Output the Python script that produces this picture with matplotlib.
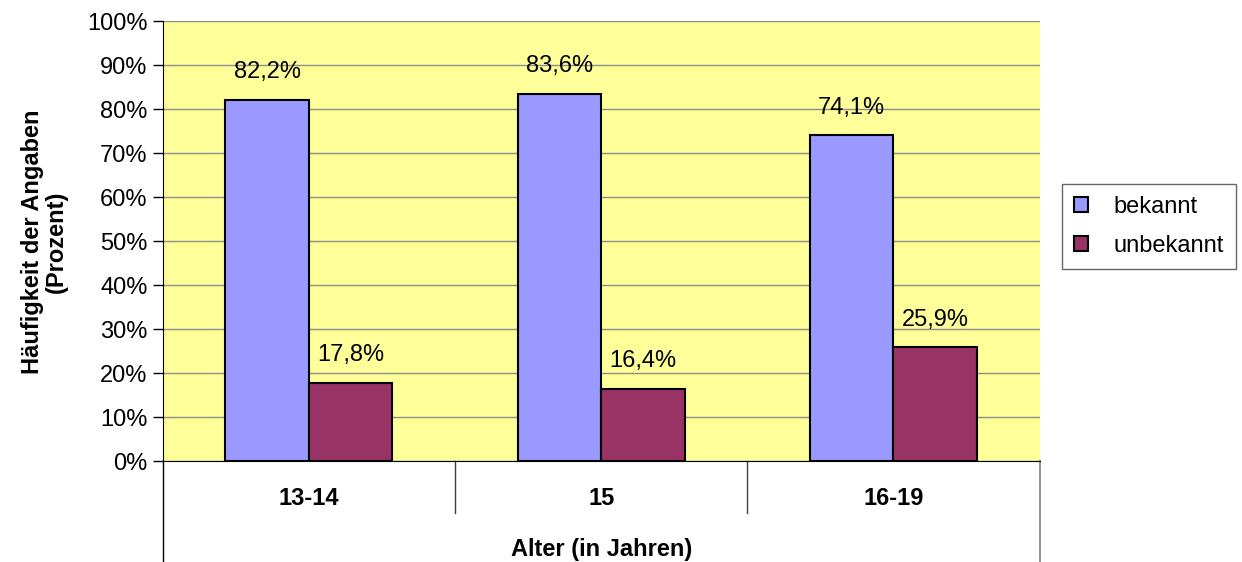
import matplotlib
matplotlib.use('Agg')
import matplotlib.pyplot as plt
import numpy as np
from matplotlib.patches import Patch

plt.rcParams['font.family'] = ['Liberation Sans', 'DejaVu Sans']

# Data
age_groups = ['13-14', '15', '16-19']
known = [82.2, 83.6, 74.1]
unknown = [17.8, 16.4, 25.9]
series_names = ['bekannt', 'unbekannt']
colors = ['#9999FF', '#993366']

FS = 17

fig = plt.figure(figsize=(12.42, 5.62), dpi=100)
ax = fig.add_axes([0.131, 0.179, 0.706, 0.783])
ax.set_facecolor('#FFFF99')

x = np.arange(len(age_groups))
w = 1 / 3.5
b1 = ax.bar(x - w / 2, known, w, color=colors[0], edgecolor='black', linewidth=1.5, zorder=3)
b2 = ax.bar(x + w / 2, unknown, w, color=colors[1], edgecolor='black', linewidth=1.5, zorder=3)

for bars, vals in ((b1, known), (b2, unknown)):
    for rect, v in zip(bars, vals):
        ax.annotate(('%.1f%%' % v).replace('.', ','),
                    (rect.get_x() + rect.get_width() / 2, v),
                    xytext=(0, 20), textcoords='offset points',
                    ha='center', va='center', fontsize=FS)

ax.set_xlim(-0.5, len(age_groups) - 0.5)
ax.set_ylim(0, 100)
ax.set_yticks(range(0, 101, 10))
ax.set_yticklabels(['%d%%' % t for t in range(0, 101, 10)], fontsize=FS)
ax.yaxis.grid(True, color='#8C8C8C', linewidth=1, zorder=0)
ax.tick_params(axis='y', length=7, width=1, color='black', pad=4)
ax.set_xticks([])

for s in ('top', 'right'):
    ax.spines[s].set_visible(False)
ax.spines['left'].set_color('black')
ax.spines['bottom'].set_color('black')
ax.spines['left'].set_bounds(0, 100)

# category dividers and the box below the axis
trans = ax.get_xaxis_transform()
for xv in (0.5, 1.5):
    ax.plot([xv, xv], [0, -0.117], color='#404040', lw=1, transform=trans, clip_on=False)
ax.plot([2.5, 2.5], [0, -0.23], color='#808080', lw=1.2, transform=trans, clip_on=False)
ax.plot([-0.5, -0.5], [0, -0.23], color='black', lw=1, transform=trans, clip_on=False)

for xi, lab in zip(x, age_groups):
    ax.text(xi, -0.085, lab, transform=trans, ha='center', va='center',
            fontsize=FS, fontweight='bold')
ax.text(1, -0.2, 'Alter (in Jahren)', transform=trans, ha='center', va='center',
        fontsize=FS, fontweight='bold')

ax.set_ylabel('Häufigkeit der Angaben\n(Prozent)', fontsize=FS, fontweight='bold',
              labelpad=14, linespacing=1.0)

handles = [Patch(facecolor=c, edgecolor='black', linewidth=1.5) for c in colors]
leg = fig.legend(handles, series_names, loc='upper left', bbox_to_anchor=(0.855, 0.673),
                 fontsize=FS, frameon=True, fancybox=False, edgecolor='#404040',
                 handlelength=0.6, handleheight=0.6, handletextpad=1.1, labelspacing=0.75,
                 borderpad=0.5, borderaxespad=0)
leg.get_frame().set_linewidth(1)

fig.savefig('out.png', dpi=100)
